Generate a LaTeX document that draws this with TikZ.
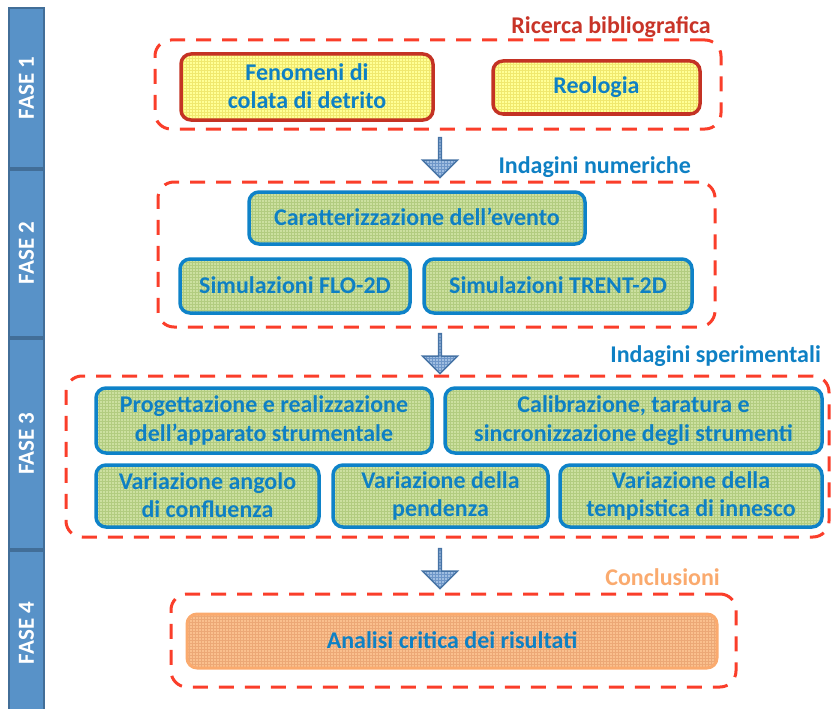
\documentclass[tikz,border=0pt]{standalone}
\usepackage{fontspec}
\setmainfont{Carlito}
\usepackage{xcolor}
\usepackage{tikz}
\usetikzlibrary{positioning, shapes}
\usetikzlibrary{arrows.meta}
\usetikzlibrary{patterns}

\definecolor{faseblue}{RGB}{88,146,200}
\definecolor{fasedark}{RGB}{66,110,152}
\definecolor{dashred}{RGB}{250,62,42}
\definecolor{boxred}{RGB}{196,50,36}
\definecolor{boxyellow}{RGB}{255,255,150}
\definecolor{gridyellow}{RGB}{240,232,110}
\definecolor{boxblue}{RGB}{14,130,200}
\definecolor{boxgreen}{RGB}{204,224,160}
\definecolor{gridgreen}{RGB}{178,204,128}
\definecolor{textblue}{RGB}{14,128,196}
\definecolor{titlered}{RGB}{200,52,40}
\definecolor{titleorange}{RGB}{250,170,110}
\definecolor{boxorange}{RGB}{250,192,142}
\definecolor{gridorange}{RGB}{236,168,118}
\definecolor{arrowfill}{RGB}{160,190,225}
\definecolor{arrowgrid}{RGB}{110,150,200}
\definecolor{arrowdark}{RGB}{70,115,165}

\begin{document}
\begin{tikzpicture}[x=1pt,y=-1pt]
            \tikzset{fase/.style = {draw=fasedark, fill=faseblue, line width=2pt, minimum height=35pt, inner sep=0pt, text=white, font=\fontsize{23}{27}\selectfont\bfseries, rotate=90}}
            \tikzset{group/.style = {draw=dashred, line width=3pt, dash pattern=on 15pt off 11pt, rounded corners=16pt}}
            \tikzset{grouptitle/.style = {anchor=east, inner sep=0pt, font=\fontsize{24}{28}\selectfont\bfseries}}
            \tikzset{boxtext/.style = {text=textblue, align=center, font=\fontsize{24}{28.5}\selectfont\bfseries, execute at begin node={\rule{0pt}{16pt}}, execute at end node={\rule[-2pt]{0pt}{2pt}}}}
            \tikzset{redbox/.style = {boxtext, draw=boxred, line width=3.5pt, rounded corners=10pt, preaction={fill=boxyellow}, pattern=grid, pattern color=gridyellow}}
            \tikzset{bluebox/.style = {boxtext, draw=boxblue, line width=3.5pt, rounded corners=10pt, preaction={fill=boxgreen}, pattern=grid, pattern color=gridgreen}}
            \tikzset{orangebox/.style = {boxtext, draw=titleorange, line width=3pt, rounded corners=10pt, preaction={fill=boxorange}, pattern=grid, pattern color=gridorange}}
            \tikzset{downarrow/.style = {single arrow, draw=arrowdark, line width=1.5pt, preaction={fill=arrowfill}, pattern=grid, pattern color=arrowgrid, minimum height=40pt, minimum width=35pt, single arrow head extend=9pt, inner sep=0pt, rotate=-90}}

            \useasboundingbox (0,0) rectangle (836,709);

            % phases
            \node[fase, minimum width=160pt] (fase1) at (26.5,88) {FASE 1};
            \node[fase, minimum width=167pt] (fase2) at (26.5,253) {FASE 2};
            \node[fase, minimum width=210pt] (fase3) at (26.5,443.5) {FASE 3};
            \node[fase, minimum width=165pt] (fase4) at (26.5,633) {FASE 4};

            % ricerca bibliografica
            \node[group, minimum width=566pt, minimum height=89pt] (ricerca) at (438,84.5) {};
            \node[grouptitle, text=titlered] (ricercatitle) at (711,27) {Ricerca bibliografica};
            \node[redbox, minimum width=252pt, minimum height=66pt] (fenomeni) at (307,87) {Fenomeni di\\colata di detrito};
            \node[redbox, minimum width=207pt, minimum height=53pt] (reologia) at (596.5,87.5) {Reologia};

            % indagini numeriche
            \node[group, minimum width=557pt, minimum height=145pt] (numeriche) at (436.5,254.5) {};
            \node[grouptitle, text=textblue] (numerichetitle) at (691,167) {Indagini numeriche};
            \node[bluebox, minimum width=336pt, minimum height=52pt] (evento) at (417,218) {Caratterizzazione dell’evento};
            \node[bluebox, minimum width=230pt, minimum height=54pt] (flo) at (295,286) {Simulazioni FLO-2D};
            \node[bluebox, minimum width=268pt, minimum height=54pt] (trent) at (558,286) {Simulazioni TRENT-2D};

            % indagini sperimentali
            \node[group, minimum width=763pt, minimum height=161pt] (sperimentali) at (447.5,456.5) {};
            \node[grouptitle, text=textblue] (sperimentalititle) at (821,356) {Indagini sperimentali};
            \node[bluebox, minimum width=336pt, minimum height=65pt] (apparato) at (264,420.5) {Progettazione e realizzazione\\dell’apparato strumentale};
            \node[bluebox, minimum width=377pt, minimum height=65pt] (strumenti) at (633.5,420.5) {Calibrazione, taratura e\\sincronizzazione degli strumenti};
            \node[bluebox, minimum width=223pt, minimum height=62pt] (angolo) at (207.5,496) {Variazione angolo\\di confluenza};
            \node[bluebox, minimum width=215pt, minimum height=62pt] (pendenza) at (440.5,496) {Variazione della\\pendenza};
            \node[bluebox, minimum width=262pt, minimum height=62pt] (innesco) at (691,496) {Variazione della\\tempistica di innesco};

            % conclusioni
            \node[group, minimum width=565pt, minimum height=93pt] (conclusioni) at (453.5,640.5) {};
            \node[grouptitle, text=titleorange] (conclusionititle) at (720,577) {Conclusioni};
            \node[orangebox, minimum width=530pt, minimum height=54pt] (analisi) at (452,641) {Analisi critica dei risultati};

            % arrows between phases
            \node[downarrow] (arrow1) at (440,157) {};
            \node[downarrow] (arrow2) at (440,353) {};
            \node[downarrow] (arrow3) at (440,568) {};

\end{tikzpicture}
\end{document}
